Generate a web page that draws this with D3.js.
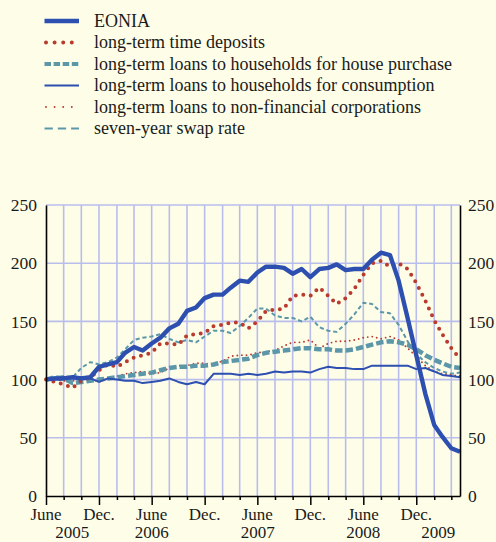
<!DOCTYPE html>
<html>
<head>
<meta charset="utf-8">
<script src="https://cdn.jsdelivr.net/npm/d3@7/dist/d3.min.js"></script>
<style>
  html, body { margin: 0; padding: 0; background: #fefee8; }
  svg { display: block; font-family: "Liberation Serif", "Times New Roman", serif; }
</style>
</head>
<body>
<svg id="chart" width="496" height="542"></svg>
<script>
// Monthly observations, June 2005 = 100
const startMonth = new Date(2005, 5, 1);
const months = d3.range(48).map(i => d3.timeMonth.offset(startMonth, i));

const eonia = [100,101,101,102,101,102,111,113,115,123,128,125,131,136,144,148,159,162,170,173,173,179,185,184,192,197,197,196,191,195,188,195,196,199,194,195,195,203,209,207,185,153,121,88,61,51,41,38];
const timeDeposits = [100,98,96,93,99,102,108,113,111,115,119,121,123,131,131,130,138,139,140,146,147,149,149,144,150,159,160,161,172,173,172,179,172,165,170,178,190,200,202,197,200,195,183,168,151,139,127,118];
const housePurchase = [100,102,101,97,98,99,100,101,102,103,104,105,106,108,110,111,111,112,112,113,115,116,117,118,121,123,124,125,126,127,127,126,126,125,125,126,128,130,132,133,132,130,126,121,117,114,111,110];
const consumption = [100,101,102,102,102,101,98,101,100,99,99,97,98,99,101,98,96,98,96,105,105,105,104,105,104,105,107,106,107,107,106,109,111,110,110,109,109,112,112,112,112,112,109,110,107,104,103,102];
const corporations = [100,100,99,99,100,101,98,101,103,105,106,107,105,106,110,112,112,114,114,113,116,120,121,121,123,124,125,129,132,132,134,127,131,133,133,134,136,137,135,137,134,127,120,112,107,105,104,103];
const swapRate = [100,102,103,102,110,115,113,115,119,126,134,136,137,139,135,132,134,132,137,142,142,140,146,153,161,161,155,153,153,150,154,145,142,141,148,156,166,165,158,157,147,133,122,115,110,107,105,106];

const seriesNames = [
  "EONIA",
  "long-term time deposits",
  "long-term loans to households for house purchase",
  "long-term loans to households for consumption",
  "long-term loans to non-financial corporations",
  "seven-year swap rate"
];

const yTicks = [0, 50, 100, 150, 200, 250];
const monthLabels = ["June", "Dec.", "June", "Dec.", "June", "Dec.", "June", "Dec."];
const yearLabels = ["2005", "2006", "2007", "2008", "2009"];
const yearAt = [3, 12, 24, 36, 44.5]; // month offsets from June 2005

const blue = "#2d4fb0";
const red = "#b93a2e";
const teal = "#5b97a9";
const grid = "#b9bdec";
const ink = "#1a1a1a";

const styles = [
  { color: blue, width: 4.4, dash: null, cap: "butt" },
  { color: red,  width: 4,   dash: "0,7.6", cap: "round" },
  { color: teal, width: 4.5, dash: "7.5,3", cap: "butt" },
  { color: blue, width: 2,   dash: null, cap: "butt" },
  { color: red,  width: 1.9, dash: "0,4.6", cap: "round" },
  { color: teal, width: 2,   dash: "4.2,2.8", cap: "butt" }
];
const legendDash = [null, "0,8.6", "6.5,2.6", null, "0,8.6", "8.3,5"];
const values = [eonia, timeDeposits, housePurchase, consumption, corporations, swapRate];

const svg = d3.select("#chart");
const plotLeft = 46, plotRight = 460, plotTop = 205, plotBottom = 496;

const x = d3.scaleTime().domain([months[0], months[47]]).range([plotLeft, plotRight]);
const y = d3.scaleLinear().domain([0, 250]).range([plotBottom, plotTop]);

// Legend
const legend = svg.append("g");
seriesNames.forEach((name, i) => {
  const ly = 21 + i * 21.5;
  const s = styles[i];
  const lg = legend.append("g");
  lg.append("line")
    .attr("x1", s.cap === "round" ? 46 : 44.5).attr("x2", 79)
    .attr("y1", ly).attr("y2", ly)
    .attr("stroke", s.color)
    .attr("stroke-width", i === 2 ? 4 : s.width)
    .attr("stroke-linecap", s.cap)
    .attr("stroke-dasharray", legendDash[i]);
  lg.append("text")
    .attr("x", 94).attr("y", ly)
    .attr("dy", "0.33em")
    .attr("font-size", 18)
    .attr("fill", ink)
    .text(name);
});

// Grid
const gridG = svg.append("g");
gridG.selectAll("line.h")
  .data(yTicks.filter(v => v > 0))
  .join("line")
  .attr("x1", plotLeft).attr("x2", plotRight)
  .attr("y1", d => y(d)).attr("y2", d => y(d))
  .attr("stroke", grid).attr("stroke-width", 1.6);
gridG.selectAll("line.v")
  .data(months.filter((d, i) => i % 2 === 0 && i > 0))
  .join("line")
  .attr("x1", d => x(d)).attr("x2", d => x(d))
  .attr("y1", plotTop).attr("y2", plotBottom)
  .attr("stroke", grid).attr("stroke-width", 1.6);

// Series lines
const line = d3.line()
  .x((d, i) => x(months[i]))
  .y(d => y(d));

const drawOrder = [5, 4, 2, 3, 1, 0];
drawOrder.forEach(i => {
  const s = styles[i];
  svg.append("path")
    .datum(values[i])
    .attr("fill", "none")
    .attr("stroke", s.color)
    .attr("stroke-width", s.width)
    .attr("stroke-linecap", s.cap)
    .attr("stroke-linejoin", "round")
    .attr("stroke-dasharray", s.dash)
    .attr("d", line);
});

// Axes
const tickMonths = months.filter((d, i) => i % 2 === 0);
const xAxis = d3.axisBottom(x)
  .tickValues(tickMonths)
  .tickSize(4)
  .tickSizeOuter(0)
  .tickFormat("");
const gx = svg.append("g")
  .attr("transform", `translate(0,${plotBottom})`)
  .call(xAxis);
gx.select(".domain").attr("stroke", "#000").attr("stroke-width", 1.6);
gx.selectAll(".tick line")
  .attr("stroke", "#000").attr("stroke-width", 1.5)
  .attr("y2", d => (d.getMonth() === 5 || d.getMonth() === 11) ? 9 : 4);

// Month and year labels
const labelMonths = months.filter(d => d.getMonth() === 5 || d.getMonth() === 11);
svg.append("g").selectAll("text")
  .data(labelMonths)
  .join("text")
  .attr("x", d => x(d))
  .attr("y", 519.5)
  .attr("text-anchor", "middle")
  .attr("font-size", 17)
  .attr("fill", ink)
  .text((d, i) => monthLabels[i]);
svg.append("g").selectAll("text")
  .data(yearLabels)
  .join("text")
  .attr("x", (d, i) => x(d3.timeDay.offset(startMonth, Math.round(yearAt[i] * 30.44))))
  .attr("y", 538)
  .attr("text-anchor", "middle")
  .attr("font-size", 17)
  .attr("fill", ink)
  .text(d => d);

const yLeft = d3.axisLeft(y).tickValues(yTicks).tickSize(0).tickPadding(9);
const gyl = svg.append("g").attr("transform", `translate(${plotLeft},0)`).call(yLeft);
const yRight = d3.axisRight(y).tickValues(yTicks).tickSize(0).tickPadding(8);
const gyr = svg.append("g").attr("transform", `translate(${plotRight},0)`).call(yRight);
[gyl, gyr].forEach(g => {
  g.attr("font-family", null).attr("font-size", null);
  g.select(".domain").attr("stroke", "#000").attr("stroke-width", 1.6);
  g.selectAll("text")
    .attr("font-size", 17.5)
    .attr("fill", ink);
});
</script>
</body>
</html>
